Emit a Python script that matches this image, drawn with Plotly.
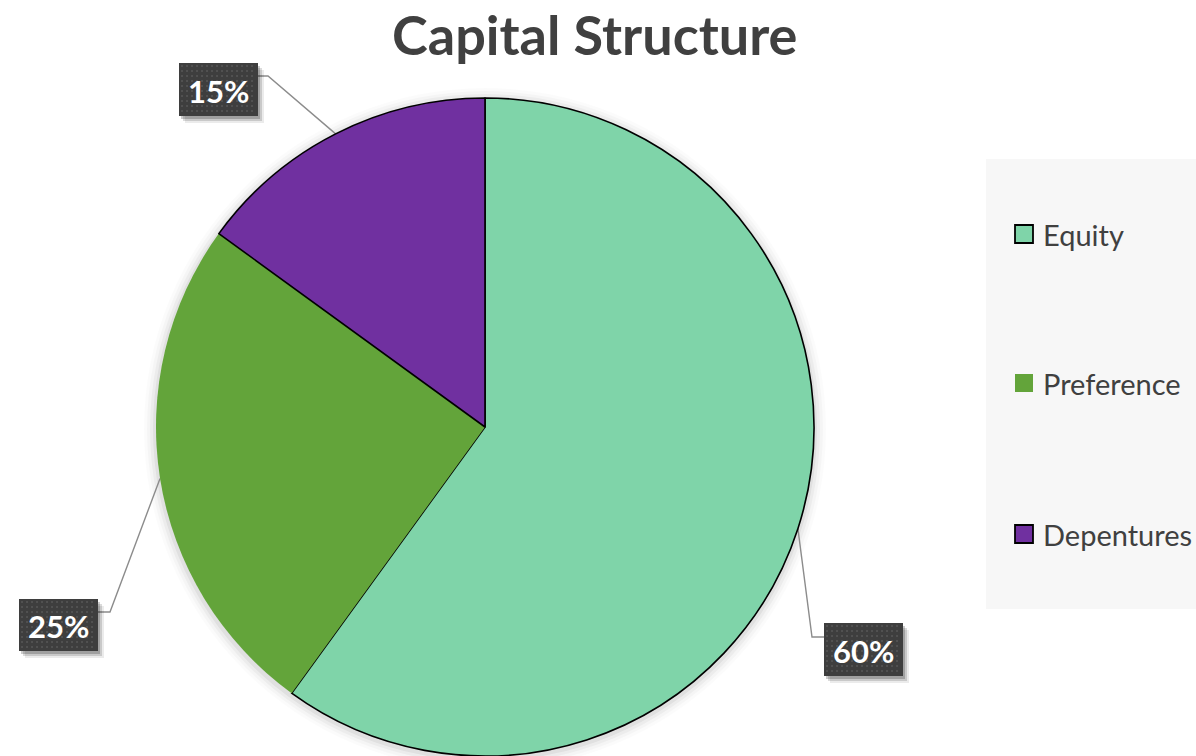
import numpy as np
import plotly.graph_objects as go

# ---------------- data ----------------
categories = ["Equity", "Preference", "Depentures"]
shares = [60, 25, 15]
label_texts = ["60%", "25%", "15%"]
title_text = "Capital Structure"

# ---------------- style ----------------
colors = ["#7FD4A9", "#63A43A", "#7030A0"]
border_widths = [1.6, 0, 1.6]
TEXT_DARK = "#404040"
FONT = "Lato"

W, H = 1196, 756
CX, CY, R = 485, 427, 329

# label box layout in pixels (left, top, right, bottom), elbow of leader line, join point
label_layout = {
    "Equity": dict(x0=824, y0=623, x1=903, y1=676, elbow=(812, 637), join=(824, 637)),
    "Preference": dict(x0=19, y0=599, x1=98, y1=651, elbow=(110, 612), join=(98, 612)),
    "Depentures": dict(x0=179, y0=63, x1=258, y1=116, elbow=(268, 76), join=(258, 76)),
}

fig = go.Figure()

# pie
fig.add_trace(go.Pie(
    labels=categories, values=shares, sort=False, direction="clockwise", rotation=0,
    marker=dict(colors=colors, line=dict(color="black", width=border_widths)),
    textinfo="none", hoverinfo="label+percent", showlegend=False,
    domain=dict(x=[(CX - R) / W, (CX + R) / W], y=[(H - CY - R) / H, (H - CY + R) / H]),
))

shapes = []
# soft shadow halo around pie
for dr, a in [(12, 0.015), (9, 0.025), (6, 0.035), (3, 0.05)]:
    shapes.append(dict(type="circle", xref="x", yref="y", layer="below",
                       x0=CX - R - dr, x1=CX + R + dr, y0=CY - R - dr + 2, y1=CY + R + dr + 2,
                       fillcolor=f"rgba(0,0,0,{a})", line=dict(width=0)))

# leader lines and label boxes
total = sum(shares)
cum = 0
annotations = []
dot_x, dot_y = [], []
for cat, v, txt in zip(categories, shares, label_texts):
    theta = np.deg2rad((cum + v / 2) / total * 360)
    cum += v
    ex, ey = CX + R * np.sin(theta), CY - R * np.cos(theta)
    L = label_layout[cat]
    shapes.append(dict(type="path", xref="x", yref="y", layer="below",
                       path=f"M{ex},{ey} L{L['elbow'][0]},{L['elbow'][1]} L{L['join'][0]},{L['join'][1]}",
                       line=dict(color="#8C8C8C", width=1.4)))
    # shadow
    for off, a in [(6, 0.08), (4, 0.14), (2, 0.2)]:
        shapes.append(dict(type="rect", xref="x", yref="y", layer="below",
                           x0=L["x0"] + off, x1=L["x1"] + off, y0=L["y0"] + off + 1, y1=L["y1"] + off + 1,
                           fillcolor=f"rgba(0,0,0,{a})", line=dict(width=0)))
    shapes.append(dict(type="rect", xref="x", yref="y", layer="below",
                       x0=L["x0"], x1=L["x1"], y0=L["y0"], y1=L["y1"],
                       fillcolor="#3E3E3E", line=dict(width=0)))
    for gx in np.arange(L["x0"] + 3, L["x1"] - 1, 5):
        for gy in np.arange(L["y0"] + 3, L["y1"] - 1, 5):
            dot_x.append(gx)
            dot_y.append(gy)
    annotations.append(dict(x=(L["x0"] + L["x1"]) / 2, y=(L["y0"] + L["y1"]) / 2 + 1,
                            xref="x", yref="y", text=f"<b>{txt}</b>", showarrow=False,
                            font=dict(family=FONT, size=31, color="white")))

# texture dots on label boxes
fig.add_trace(go.Scatter(x=dot_x, y=dot_y, mode="markers", hoverinfo="skip", showlegend=False,
                         marker=dict(symbol="square", size=1.6, color="#5E5E5E")))

# legend (drawn manually for spacing)
shapes.append(dict(type="rect", xref="x", yref="y", layer="below", x0=986, x1=1200, y0=159, y1=609,
                   fillcolor="#F7F7F7", line=dict(width=0)))
legend_y = [234, 383, 534]
for cat, col, bw, ly in zip(categories, colors, border_widths, legend_y):
    shapes.append(dict(type="rect", xref="x", yref="y", layer="below",
                       x0=1015, x1=1033, y0=ly - 9, y1=ly + 9, fillcolor=col,
                       line=dict(color="black" if bw else col, width=1.8 if bw else 0)))
    annotations.append(dict(x=1041, y=ly, xref="x", yref="y", xanchor="left", yanchor="middle",
                            text=cat, showarrow=False,
                            font=dict(family=FONT, size=29, color=TEXT_DARK)))

# title
annotations.append(dict(x=594, y=34, xref="x", yref="y", text=f"<b>{title_text}</b>", showarrow=False,
                        font=dict(family=FONT, size=54, color=TEXT_DARK)))

fig.update_layout(
    width=W, height=H, margin=dict(l=0, r=0, t=0, b=0),
    paper_bgcolor="white", plot_bgcolor="rgba(0,0,0,0)",
    xaxis=dict(range=[0, W], visible=False, fixedrange=True),
    yaxis=dict(range=[H, 0], visible=False, fixedrange=True),
    shapes=shapes, annotations=annotations, showlegend=False,
)

fig.write_html("out.html")
